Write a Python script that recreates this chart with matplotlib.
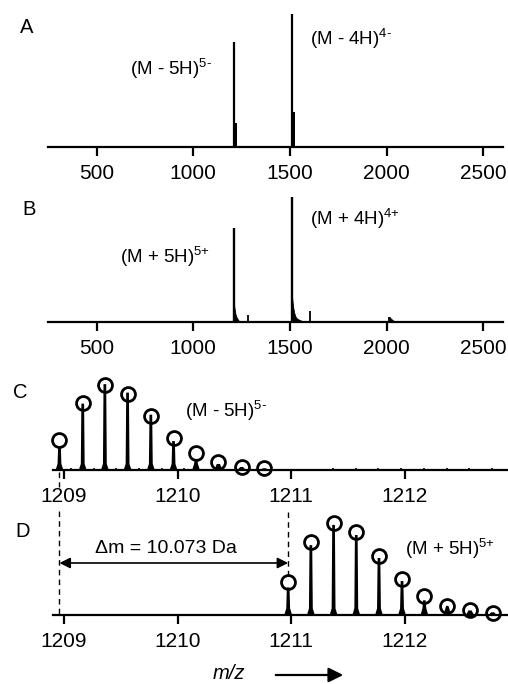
import matplotlib
matplotlib.use("Agg")
import matplotlib.pyplot as plt
from matplotlib.lines import Line2D
from matplotlib import transforms

plt.rcParams['font.family'] = ['Liberation Sans', 'DejaVu Sans']
plt.rcParams['mathtext.fontset'] = 'custom'
plt.rcParams['mathtext.rm'] = 'Liberation Sans'
plt.rcParams['mathtext.it'] = 'Liberation Sans:italic'

# ---------------- data ----------------
# Panel A (negative mode, full range)
A_peak_mz = [1208, 1508]
A_peak_int = [79, 100]
A_env_lo = [1209, 1509]
A_env_hi = [1227, 1527]
A_env_int = [18, 26]

# Panel B (positive mode, full range)
B_peak_mz = [1210, 1509]
B_peak_int = [75, 100]
B_tail1_mz = [1210, 1213, 1218, 1223, 1229, 1237]
B_tail1_int = [14, 11, 6.4, 4, 2.4, 0.6]
B_tail2_mz = [1509, 1512, 1517, 1522, 1527, 1533, 1540, 1550, 1565]
B_tail2_int = [22, 17.6, 11.2, 7.2, 4.8, 3.2, 2.4, 1.6, 0.6]
B_minor_mz = [1284, 1604, 2014]
B_minor_int = [5.6, 8.5, 4.2]
B_minor_tail_mz = [2014, 2020, 2030, 2040]
B_minor_tail_int = [4.2, 3.0, 1.6, 0.6]

# Panel C (negative 5- isotope cluster)
C_mz = [1208.96, 1209.165, 1209.36, 1209.56, 1209.765, 1209.965,
        1210.163, 1210.36, 1210.565, 1210.765]
C_stem = [27, 77, 100, 90, 64, 33, 12, 6, 2.5, 1]
C_circle = [35, 78.5, 100, 89, 63.5, 37.5, 19.5, 9.5, 3.2, 2.5]
C_noise_mz = [1209.06, 1209.26, 1209.46, 1209.66, 1209.86, 1210.06, 1210.26,
              1211.17, 1211.37, 1211.57, 1211.77, 1211.97, 1212.17,
              1212.37, 1212.57, 1212.77]
C_noise_int = [2, 2, 2.5, 2, 2, 2, 1.5,
               1.5, 2, 2, 2, 2, 2, 2, 2, 2]

# Panel D (positive 5+ isotope cluster)
D_mz = [1210.975, 1211.175, 1211.375, 1211.575, 1211.775, 1211.978,
        1212.175, 1212.377, 1212.577, 1212.776]
D_stem = [29, 75, 97, 86, 61, 36, 15, 9, 4, 2]
D_circle = [35.5, 79.7, 100, 90, 64.5, 39, 20.3, 10, 5.8, 2.2]

wide_ticks = [500, 1000, 1500, 2000, 2500]
zoom_ticks = [1209, 1210, 1211, 1212]

# ---------------- figure ----------------
W, H = 508, 684
fig = plt.figure(figsize=(W / 100, H / 100), dpi=100)


def rect(left, right, top, bottom):
    return [left / W, 1 - bottom / H, (right - left) / W, (bottom - top) / H]


def fx(x):
    return x / W


def fy(y):
    return 1 - y / H


axA = fig.add_axes(rect(48, 503, 10, 147))
axB = fig.add_axes(rect(48, 503, 185, 322))
axC = fig.add_axes(rect(53, 507, 375, 470))
axD = fig.add_axes(rect(53, 507, 520, 615))

TICK_FS = 15
for ax in (axA, axB, axC, axD):
    for s in ('top', 'right', 'left'):
        ax.spines[s].set_visible(False)
    ax.spines['bottom'].set_linewidth(1.6)
    ax.set_yticks([])
    ax.tick_params(axis='x', direction='out', length=6.5, width=1.6,
                   labelsize=TICK_FS, pad=6)
    ax.set_facecolor('none')

# A
axA.set_xlim(249, 2601)
axA.set_ylim(0, 103)
axA.set_xticks(wide_ticks)
axA.vlines(A_peak_mz, 0, A_peak_int, color='black', lw=1.6)
for lo, hi, h in zip(A_env_lo, A_env_hi, A_env_int):
    axA.bar(lo, h, width=hi - lo, align='edge', color='black', lw=0)

# B
axB.set_xlim(249, 2601)
axB.set_ylim(0, 109.6)
axB.set_xticks(wide_ticks)
axB.vlines(B_peak_mz, 0, B_peak_int, color='black', lw=1.7)
axB.fill_between(B_tail1_mz, 0, B_tail1_int, color='black', lw=0.6)
axB.fill_between(B_tail2_mz, 0, B_tail2_int, color='black', lw=0.6)
axB.vlines(B_minor_mz, 0, B_minor_int, color='black', lw=1.3)
axB.fill_between(B_minor_tail_mz, 0, B_minor_tail_int, color='black', lw=0.5)


def draw_cluster(ax, mz, stem, circ):
    for m, h in zip(mz, stem):
        if h <= 0:
            continue
        w0, w1 = 0.026, 0.009
        hb = min(h, 7)
        ax.fill([m - w0, m - w1, m - 0.004, m + 0.004, m + w1, m + w0],
                [0, hb, h, h, hb, 0], color='black', lw=1.3, clip_on=False)
    ax.plot(mz, circ, 'o', mfc='none', mec='black', ms=10, mew=2.0,
            clip_on=False, zorder=5)


# C
axC.set_xlim(1208.903, 1212.903)
axC.set_ylim(0, 111.8)
axC.set_xticks(zoom_ticks)
axC.vlines(C_noise_mz, 0, C_noise_int, color='black', lw=1.2)
draw_cluster(axC, C_mz, C_stem, C_circle)

# D
axD.set_xlim(1208.903, 1212.903)
axD.set_ylim(0, 103.3)
axD.set_xticks(zoom_ticks)
draw_cluster(axD, D_mz, D_stem, D_circle)

# ---------------- annotations ----------------
LFS = 13.5
fig.text(fx(20), fy(33), 'A', fontsize=LFS + 1, va='baseline')
fig.text(fx(22), fy(215), 'B', fontsize=LFS + 1, va='baseline')
fig.text(fx(13), fy(398), 'C', fontsize=LFS + 1, va='baseline')
fig.text(fx(15), fy(537), 'D', fontsize=LFS + 1, va='baseline')

fig.text(fx(130), fy(75), r'(M - 5H)$^{\mathrm{5{\text{-}}}}$', fontsize=LFS, va='baseline')
fig.text(fx(310), fy(45), r'(M - 4H)$^{\mathrm{4{\text{-}}}}$', fontsize=LFS, va='baseline')
fig.text(fx(120), fy(263), r'(M + 5H)$^{\mathrm{5{+}}}$', fontsize=LFS, va='baseline')
fig.text(fx(310), fy(225), r'(M + 4H)$^{\mathrm{4{+}}}$', fontsize=LFS, va='baseline')
fig.text(fx(185), fy(417), r'(M - 5H)$^{\mathrm{5{\text{-}}}}$', fontsize=LFS, va='baseline')
fig.text(fx(405), fy(555), r'(M + 5H)$^{\mathrm{5{+}}}$', fontsize=LFS, va='baseline')

fig.text(fx(95), fy(553), 'Δm = 10.073 Da', fontsize=LFS + 0.5, va='baseline')

# dashed guide lines (x from data, y in figure)
blend = transforms.blended_transform_factory(axD.transData, fig.transFigure)
for (x, y0, y1) in [(C_mz[0], 472, 487), (C_mz[0], 511, 615), (D_mz[0], 512, 578)]:
    fig.add_artist(Line2D([x, x], [fy(y0), fy(y1)], transform=blend,
                          color='black', lw=1.0, ls=(0, (4, 3))))

axD.annotate('', xy=(C_mz[0], fy(563)), xycoords=blend,
             xytext=(D_mz[0], fy(563)), textcoords=blend,
             arrowprops=dict(arrowstyle='<|-|>', color='black', lw=1.2,
                             mutation_scale=16, shrinkA=0, shrinkB=0))

fig.text(fx(213), fy(679), 'm/z', fontsize=14.5, style='italic', va='baseline')
fig.add_artist(matplotlib.patches.FancyArrowPatch(
    (fx(273), fy(675)), (fx(346), fy(675)), transform=fig.transFigure,
    arrowstyle='-|>', mutation_scale=22, lw=1.6, color='black'))

fig.savefig('out.png', dpi=100)
